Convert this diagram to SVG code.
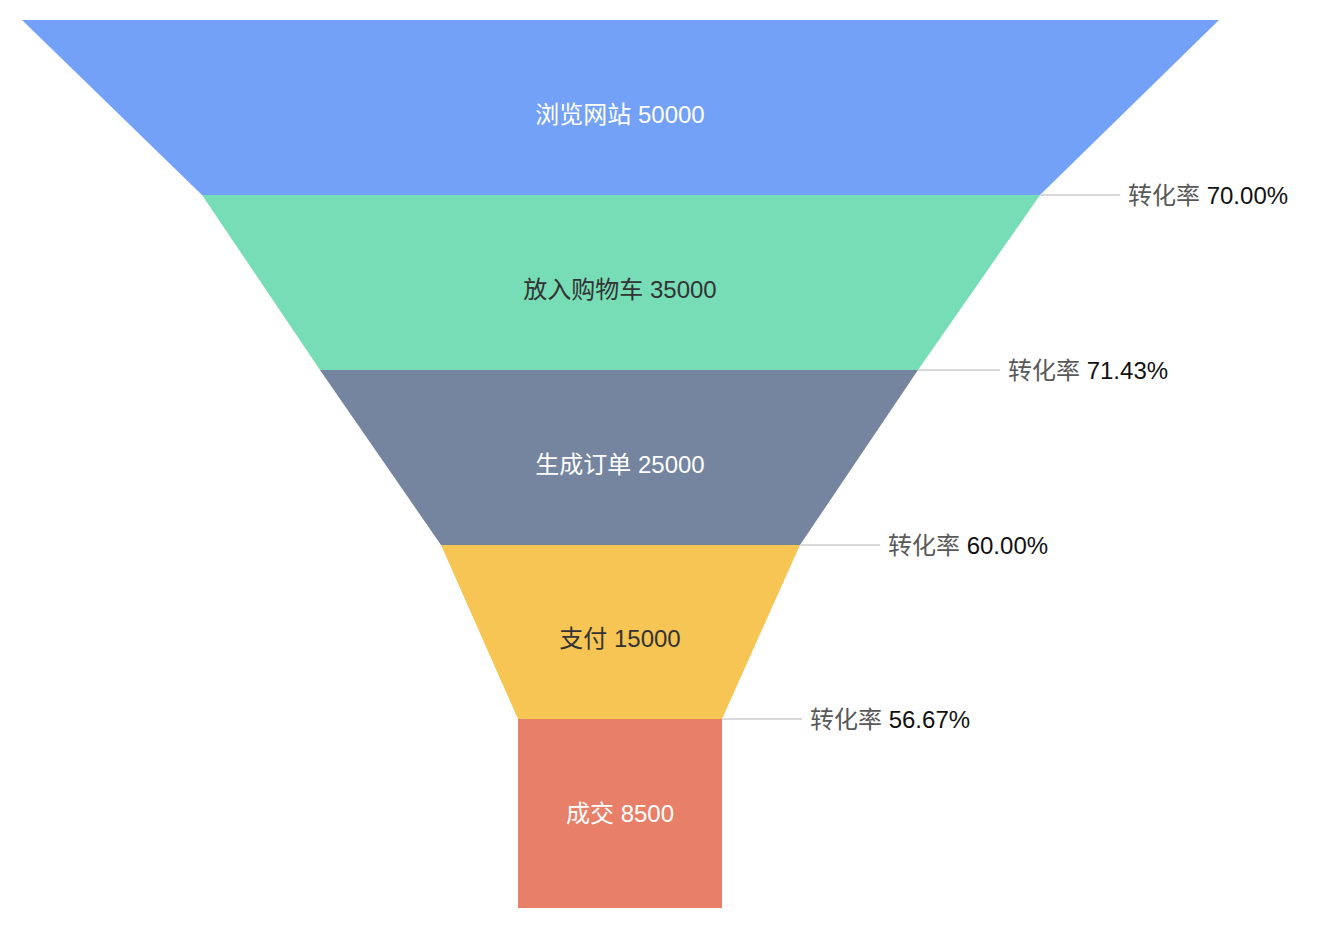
<svg xmlns="http://www.w3.org/2000/svg" width="1334" height="928" viewBox="0 0 1334 928">
<style>
text{font-family:"Liberation Sans","Noto Sans CJK SC",sans-serif;font-size:24px}
.l{text-anchor:middle;dominant-baseline:central}
.w{fill:#fff}.d{fill:#333}
.c{stroke:#d9d9d9;stroke-width:2;fill:none}
.g{fill:#595959}.k{fill:#111}
</style>
<rect width="1334" height="928" fill="#fff"/>
<g id="n1"><polygon points="22,20 1219,20 1040,195 202,195" fill="#73a1f7"/><text class="l w" x="620" y="114">浏览网站 50000</text></g>
<g id="n2"><polygon points="202,195 1040,195 918,370 320,370" fill="#77ddb7"/><text class="l d" x="620" y="289">放入购物车 35000</text></g>
<g id="n3"><polygon points="320,370 918,370 800,545 441,545" fill="#75859f"/><text class="l w" x="620" y="464">生成订单 25000</text></g>
<g id="n4"><polygon points="441,545 800,545 722,719 518,719" fill="#f6c553"/><text class="l d" x="620" y="638">支付 15000</text></g>
<g id="n5"><rect x="518" y="719" width="204" height="189" fill="#e87f68"/><text class="l w" x="620" y="813">成交 8500</text></g>
<g id="connectors">
<line class="c" x1="1040" y1="195" x2="1120" y2="195"/>
<line class="c" x1="918" y1="370" x2="1000" y2="370"/>
<line class="c" x1="800" y1="545" x2="880" y2="545"/>
<line class="c" x1="722" y1="719" x2="802" y2="719"/>
</g>
<g id="labels" dominant-baseline="central">
<text x="1128" y="195"><tspan class="g">转化率</tspan><tspan class="k"> 70.00%</tspan></text>
<text x="1008" y="370"><tspan class="g">转化率</tspan><tspan class="k"> 71.43%</tspan></text>
<text x="888" y="545"><tspan class="g">转化率</tspan><tspan class="k"> 60.00%</tspan></text>
<text x="810" y="719"><tspan class="g">转化率</tspan><tspan class="k"> 56.67%</tspan></text>
</g>
</svg>
